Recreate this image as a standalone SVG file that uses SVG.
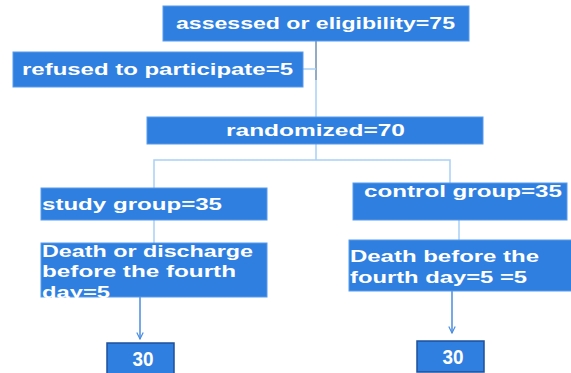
<svg xmlns="http://www.w3.org/2000/svg" width="571" height="373" viewBox="0 0 571 373">
<defs>
<marker id="arr" viewBox="0 0 10 10" refX="9" refY="5" markerWidth="8" markerHeight="8" markerUnits="userSpaceOnUse" orient="auto">
<path d="M1,1 L9,5 L1,9" fill="none" stroke="#4a8de0" stroke-width="1.5"/>
</marker>
</defs>
<style>
.box{fill:#2f7fe0;stroke:#5b9be8;stroke-width:1}
.fin{fill:#2f7fe0;stroke:#1f4f9a;stroke-width:1.5}
.t{fill:#ffffff;font-family:"Liberation Sans",Arial,sans-serif;font-weight:bold;font-size:17px}
.n{fill:#ffffff;font-family:"Liberation Sans",Arial,sans-serif;font-weight:bold;font-size:21px}
.ln{fill:none;stroke:#a9d1f5;stroke-width:1.5}
.dk{fill:none;stroke:#6f8fb0;stroke-width:1.5}
.ar{fill:none;stroke:#4a8de0;stroke-width:1.5}
</style>
<rect width="571" height="373" fill="#ffffff"/>
<g id="connectors">
<path class="dk" d="M316,41 V80"/>
<path class="ln" d="M316,80 V117"/>
<path class="ln" d="M303,69 H316"/>
<path class="ln" d="M316,144 V160 M154,188 V160 H450 V183"/>
<path class="ln" d="M154,220 V243"/>
<path class="ln" d="M459,220 V240"/>
<path class="ar" d="M140,297 V339" marker-end="url(#arr)"/>
<path class="ar" d="M452,291 V333" marker-end="url(#arr)"/>
</g>
<g id="n-assessed">
<rect class="box" x="163" y="6" width="306" height="35"/>
<text class="t" x="176" y="29" textLength="279" lengthAdjust="spacingAndGlyphs">assessed or eligibility=75</text>
</g>
<g id="n-refused">
<rect class="box" x="13" y="52" width="290" height="35"/>
<text class="t" x="22" y="75" textLength="271" lengthAdjust="spacingAndGlyphs">refused to participate=5</text>
</g>
<g id="n-randomized">
<rect class="box" x="147" y="117" width="336" height="27"/>
<text class="t" x="226" y="136" textLength="179" lengthAdjust="spacingAndGlyphs">randomized=70</text>
</g>
<g id="n-study">
<rect class="box" x="41" y="188" width="226" height="32"/>
<text class="t" x="42" y="210" textLength="180" lengthAdjust="spacingAndGlyphs">study group=35</text>
</g>
<g id="n-control">
<rect class="box" x="353" y="183" width="214" height="37"/>
<text class="t" x="364" y="197" textLength="198" lengthAdjust="spacingAndGlyphs">control group=35</text>
</g>
<g id="n-study-loss">
<rect class="box" x="41" y="243" width="226" height="54"/>
<text class="t" x="42" y="257" textLength="211" lengthAdjust="spacingAndGlyphs">Death or discharge</text>
<text class="t" x="42" y="277" textLength="194" lengthAdjust="spacingAndGlyphs">before the fourth</text>
<text class="t" x="42" y="298" textLength="68" lengthAdjust="spacingAndGlyphs">day=5</text>
</g>
<g id="n-control-loss">
<rect class="box" x="349" y="240" width="224" height="51"/>
<text class="t" x="350" y="262" textLength="189" lengthAdjust="spacingAndGlyphs">Death before the</text>
<text class="t" x="350" y="283" textLength="177" lengthAdjust="spacingAndGlyphs">fourth day=5 =5</text>
</g>
<g id="n-study-final">
<rect class="fin" x="107" y="343" width="67" height="34"/>
<text class="n" x="143" y="366" text-anchor="middle" textLength="21" lengthAdjust="spacingAndGlyphs">30</text>
</g>
<g id="n-control-final">
<rect class="fin" x="417" y="341" width="67" height="31"/>
<text class="n" x="453" y="364" text-anchor="middle" textLength="21" lengthAdjust="spacingAndGlyphs">30</text>
</g>
</svg>
